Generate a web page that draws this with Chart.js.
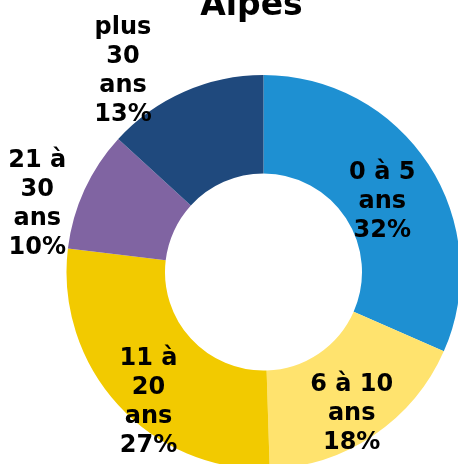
<!DOCTYPE html>
<html>
<head>
<meta charset="utf-8">
<script src="https://cdn.jsdelivr.net/npm/chart.js@4"></script>
<style>
  html, body { margin: 0; padding: 0; background: #fff; overflow: hidden; width: 458px; height: 464px; }
  #wrap { position: absolute; left: 0; top: 0; width: 470px; height: 470px; }
</style>
</head>
<body>
<div id="wrap"><canvas id="chart"></canvas></div>
<script>
/* ---- Data ---- */
const TITLE = 'Alpes';
const CATEGORIES = [['0 à 5', 'ans'], ['6 à 10', 'ans'], ['11 à', '20', 'ans'], ['21 à', '30', 'ans'], ['plus', '30', 'ans']];
const VALUES = [31.6, 17.9, 27.4, 9.9, 13.2];   // percent
const COLORS = ['#1e90d2', '#ffe36e', '#f2ca00', '#8064a2', '#1f497d'];

/* ---- Label placement (nudges from each arc's mid point) ---- */
const LABEL_NUDGE = [[-5, 8.5], [5.5, 17.5], [-6, 28], [-92, -8], [-81, -68]];
const LABEL_FONT = 'bold 24px "DejaVu Sans"';
const LINE_PITCH = 29;

const labelPlugin = {
    id: 'sliceLabels',
    afterDatasetsDraw(chart) {
        const ctx = chart.ctx;
        const meta = chart.getDatasetMeta(0);
        ctx.save();
        ctx.fillStyle = '#000';
        ctx.textAlign = 'center';
        ctx.textBaseline = 'alphabetic';
        ctx.font = LABEL_FONT;
        meta.data.forEach((arc, i) => {
            const p = arc.tooltipPosition();
            const cx = p.x + LABEL_NUDGE[i][0];
            const cy = p.y + LABEL_NUDGE[i][1];
            const lines = [...CATEGORIES[i], Math.round(VALUES[i]) + '%'];
            lines.forEach((t, j) => {
                const y = cy + (j - (lines.length - 1) / 2) * LINE_PITCH + 8.5;
                ctx.fillText(t, cx, y);
            });
        });
        // title (Excel-style, partly off the top edge)
        ctx.font = 'bold 33px "DejaVu Sans"';
        ctx.fillText(TITLE, 251.5, 15);
        ctx.restore();
    }
};

new Chart(document.getElementById('chart'), {
    type: 'doughnut',
    data: {
        labels: CATEGORIES.map(c => c.join(' ')),
        datasets: [{ data: VALUES, backgroundColor: COLORS, borderWidth: 0 }]
    },
    options: {
        responsive: true,
        maintainAspectRatio: false,
        animation: false,
        cutout: '50%',
        layout: { padding: { left: 66.5, top: 75, right: 9.5, bottom: 1 } },
        plugins: {
            legend: { display: false },
            title: { display: false },
            tooltip: { enabled: false }
        }
    },
    plugins: [labelPlugin]
});
</script>
</body>
</html>
